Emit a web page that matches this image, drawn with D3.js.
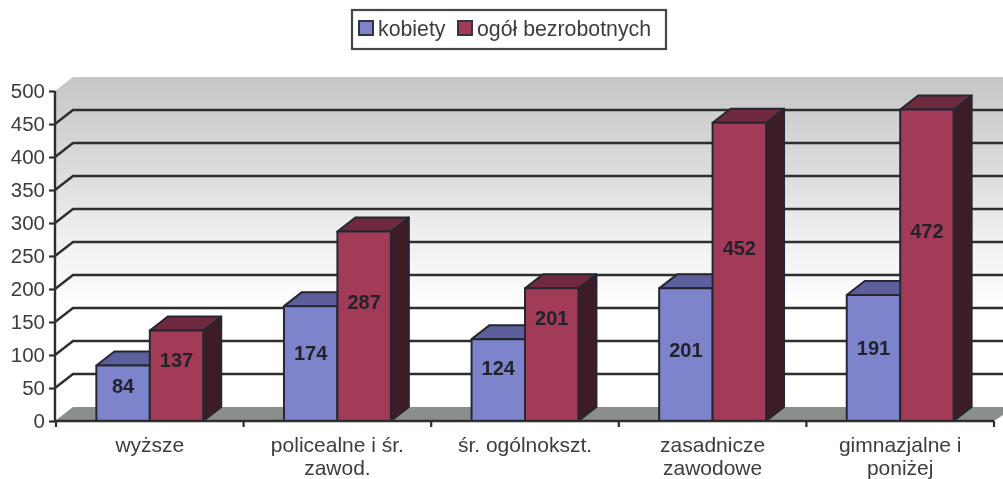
<!DOCTYPE html>
<html>
<head>
<meta charset="utf-8">
<script src="https://cdn.jsdelivr.net/npm/d3@7"></script>
<style>
  html, body { margin: 0; padding: 0; background: #fff; }
  svg { display: block; }
  text { font-family: "Liberation Sans", Arial, sans-serif; }
</style>
</head>
<body>
<svg id="chart"></svg>
<script>
// Data
const categories = ["wyższe", "policealne i śr.\nzawod.", "śr. ogólnokszt.", "zasadnicze\nzawodowe", "gimnazjalne i\nponiżej"];
const kobiety = [84, 174, 124, 201, 191];
const ogol = [137, 287, 201, 452, 472];
const seriesNames = ["kobiety", "ogół bezrobotnych"];
const yTicks = [0, 50, 100, 150, 200, 250, 300, 350, 400, 450, 500];

// The labels were placed by hand in the original, so they sit at uneven
// distances above the middle of each bar (pixels)
const labelLift = [[7, 11, 12, 5, 10], [16, 24, 37, 24, 34]];

const width = 1003, height = 479;
const depthX = 18, depthY = 14;
const textColor = "#3c3c3c", lineColor = "#2e2e2e";

const svg = d3.select("#chart").attr("width", width).attr("height", height);

const defs = svg.append("defs");
const wallGrad = defs.append("linearGradient")
    .attr("id", "wall").attr("x1", 0).attr("y1", 0).attr("x2", 0).attr("y2", 1);
[[0, "#c6c6c6"], [0.12, "#d0d0d0"], [0.3, "#dedede"], [0.45, "#eeeeee"], [0.6, "#f9f9f9"], [0.68, "#ffffff"]].forEach(s =>
    wallGrad.append("stop").attr("offset", s[0]).attr("stop-color", s[1]));
defs.append("filter").attr("id", "soft")
    .append("feGaussianBlur").attr("stdDeviation", 0.45);

const root = svg.append("g").attr("filter", "url(#soft)");

// Scales
const y = d3.scaleLinear().domain([0, 500]).range([421, 91]);
const x = d3.scaleBand().domain(categories).range([56, 994]);
const xInner = d3.scaleBand().domain(seriesNames).range([0, x.bandwidth()]).paddingOuter(0.755);
const y0 = y(0), left = 55;

// Walls and floor
root.append("polygon")
    .attr("points", [[left, y(500)], [left + depthX, y(500) - depthY], [width, y(500) - depthY], [width, y0 - depthY], [left + depthX, y0 - depthY], [left, y0]].join(" "))
    .attr("fill", "url(#wall)");
root.append("polygon")
    .attr("points", [[left, y0], [left + depthX, y0 - depthY], [width, y0 - depthY], [width, y0 - 6], [x.range()[1], y0]].join(" "))
    .attr("fill", "#8b8f8c");

// Gridlines on the back wall, with the short diagonal on the side wall
const gridVals = yTicks.filter(d => d > 0 && d < 500);
root.selectAll(".grid")
    .data(gridVals)
    .enter()
    .append("polyline")
    .attr("class", "grid")
    .attr("points", d => [[left, y(d)], [left + depthX, y(d) - depthY], [width, y(d) - depthY]].join(" "))
    .attr("fill", "none")
    .attr("stroke", lineColor)
    .attr("stroke-width", 2.4);

// Bars
const styles = [
    { front: "#7d84cc", top: "#5b5f9c", side: "#34365e" },
    { front: "#a23a58", top: "#6f2b40", side: "#3e1d28" }
];
[kobiety, ogol].forEach(function(values, s) {
    const g = root.append("g");
    const w = xInner.bandwidth();
    const bar = g.selectAll("g")
        .data(values.map((v, i) => ({ v: v, cat: categories[i] })))
        .enter()
        .append("g")
        .attr("transform", d => `translate(${x(d.cat) + xInner(seriesNames[s])},0)`);

    bar.append("polygon")
        .attr("points", d => [[w, y(d.v)], [w + depthX, y(d.v) - depthY], [w + depthX, y0 - depthY], [w, y0]].join(" "))
        .attr("fill", styles[s].side);
    bar.append("polygon")
        .attr("points", d => [[0, y(d.v)], [depthX, y(d.v) - depthY], [w + depthX, y(d.v) - depthY], [w, y(d.v)]].join(" "))
        .attr("fill", styles[s].top);
    bar.append("rect")
        .attr("x", 0)
        .attr("y", d => y(d.v))
        .attr("width", w)
        .attr("height", d => y0 - y(d.v))
        .attr("fill", styles[s].front);
    bar.selectAll("polygon, rect")
        .attr("stroke", "#262830")
        .attr("stroke-width", 2)
        .attr("stroke-linejoin", "round");
});

// Value labels go last so the neighbouring bar cannot cover them
[kobiety, ogol].forEach(function(values, s) {
    root.selectAll(".label" + s)
        .data(values)
        .enter()
        .append("text")
        .attr("class", "label" + s)
        .attr("text-anchor", "middle")
        .attr("x", (d, i) => x(categories[i]) + xInner(seriesNames[s]) + xInner.bandwidth() / 2)
        .attr("y", (d, i) => (y(d) + y0) / 2 - labelLift[s][i] + 7)
        .attr("font-size", "20px")
        .attr("font-weight", "bold")
        .attr("fill", "#22242c")
        .text(d => d);
});

// Y axis
const yAxis = root.append("g")
    .attr("transform", `translate(${left},0)`)
    .call(d3.axisLeft(y).tickValues(yTicks).tickSize(6).tickPadding(4));
yAxis.selectAll("text").attr("font-size", "20.5px").attr("font-family", null).attr("fill", textColor);
yAxis.selectAll("line").attr("stroke", lineColor).attr("stroke-width", 2.2);
yAxis.select(".domain").attr("stroke", lineColor).attr("stroke-width", 2.4).attr("d", `M0,${y(500)}V${y0}`);

// X axis: labels from the band scale, tick marks on the band edges
const xAxis = root.append("g")
    .attr("transform", `translate(0,${y0})`)
    .call(d3.axisBottom(x).tickSize(0).tickFormat(""));
xAxis.select(".domain").attr("stroke", lineColor).attr("stroke-width", 2.4).attr("d", `M${left},0H${x.range()[1]}`);

xAxis.selectAll(".edge")
    .data(d3.range(categories.length + 1))
    .enter()
    .append("line")
    .attr("class", "edge")
    .attr("x1", i => x.range()[0] + i * x.step())
    .attr("x2", i => x.range()[0] + i * x.step())
    .attr("y1", 0)
    .attr("y2", 6)
    .attr("stroke", lineColor)
    .attr("stroke-width", 2.2);

xAxis.selectAll(".tick text")
    .attr("font-family", null)
    .attr("font-size", "21px")
    .attr("fill", textColor)
    .attr("y", 0)
    .attr("dy", 0)
    .each(function(d) {
        const t = d3.select(this);
        d.split("\n").forEach((line, i) => {
            t.append("tspan").attr("x", 0).attr("y", 31 + i * 23).text(line);
        });
    });

// Legend
const legend = root.append("g");
legend.append("rect")
    .attr("x", 352).attr("y", 10).attr("width", 314).attr("height", 39)
    .attr("fill", "#fff").attr("stroke", "#444").attr("stroke-width", 2.2);
const legendX = [359, 458];
seriesNames.forEach(function(name, s) {
    legend.append("rect")
        .attr("x", legendX[s]).attr("y", 21).attr("width", 14).attr("height", 14)
        .attr("fill", styles[s].front).attr("stroke", "#33343c").attr("stroke-width", 2);
    legend.append("text")
        .attr("x", legendX[s] + 19).attr("y", 36)
        .attr("font-size", "21.3px")
        .attr("fill", textColor)
        .text(name);
});
</script>
</body>
</html>
